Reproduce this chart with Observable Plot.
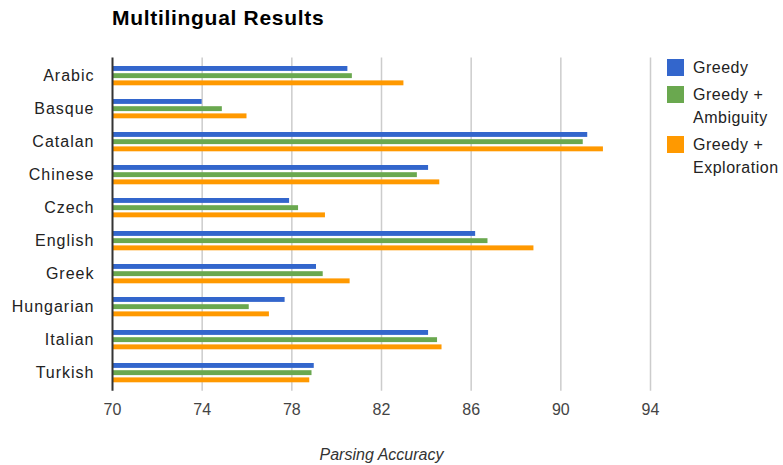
<!DOCTYPE html>
<html>
<head>
<meta charset="utf-8">
<script src="https://cdn.jsdelivr.net/npm/d3@7"></script>
<script src="https://cdn.jsdelivr.net/npm/@observablehq/plot@0.6"></script>
<style>
  html, body { margin: 0; padding: 0; background: #fff; }
  #wrap { position: relative; width: 783px; height: 465px; overflow: hidden; font-family: "Liberation Sans", Arial, sans-serif; }
  #title { position: absolute; left: 112px; top: 6px; font-size: 21px; font-weight: bold; letter-spacing: 0.7px; color: #000; white-space: nowrap; }
  #chart { position: absolute; left: 0; top: 0; }
  #legend { position: absolute; left: 667px; top: 0; font-size: 16px; color: #222; letter-spacing: 0.5px; }
  .sw { position: absolute; width: 17px; height: 17px; left: 0; }
  .lt { position: absolute; left: 26px; white-space: nowrap; line-height: 23px; }
  svg [aria-label^="y-axis"] text { letter-spacing: 1px; }
</style>
</head>
<body>
<div id="wrap">
  <div id="chart"></div>
  <div id="title">Multilingual Results</div>
  <div id="legend"></div>
</div>
<script>
const languages = ["Arabic", "Basque", "Catalan", "Chinese", "Czech", "English", "Greek", "Hungarian", "Italian", "Turkish"];
const greedy      = [80.5, 74.0, 91.2, 84.1, 77.9, 86.2, 79.1, 77.7, 84.1, 79.0];
const ambiguity   = [80.7, 74.9, 91.0, 83.6, 78.3, 86.75, 79.4, 76.1, 84.5, 78.9];
const exploration = [83.0, 76.0, 91.9, 84.6, 79.5, 88.8, 80.6, 77.0, 84.7, 78.8];
const seriesNames = ["Greedy", "Greedy + Ambiguity", "Greedy + Exploration"];
const legendLines = [["Greedy"], ["Greedy +", "Ambiguity"], ["Greedy +", "Exploration"]];
const colors = ["#3366cc", "#6aa84f", "#ff9900"];
const xTicks = [70, 74, 78, 82, 86, 90, 94];
const xLabel = "Parsing Accuracy";

const seriesValues = [greedy, ambiguity, exploration];
const base = xTicks[0];
const rows = seriesValues.map((vals, s) => languages.map((lang, i) => ({lang, series: seriesNames[s], value: vals[i]})));

// placement of the three bars inside each language band
const insets = [[7, 21.1], [14.2, 13.9], [21.4, 6.7]];

const marks = [
  Plot.ruleX(xTicks.slice(1), {stroke: "#cccccc", strokeWidth: 1.5}),
  ...rows.map((data, s) => Plot.barX(data, {
    y: "lang", x1: () => base, x2: "value",
    fill: colors[s], insetTop: insets[s][0], insetBottom: insets[s][1]
  })),
  Plot.ruleX([base], {stroke: "#333", strokeWidth: 2}),
  Plot.text([xLabel], {frameAnchor: "bottom", dy: 64, text: d => d, fontStyle: "italic", fontSize: 16, fill: "#333", lineAnchor: "middle"})
];

const chart = Plot.plot({
  width: 783,
  height: 465,
  marginLeft: 112,
  marginRight: 133,
  marginTop: 57.5,
  marginBottom: 74.2,
  style: {fontFamily: "'Liberation Sans', Arial, sans-serif", fontSize: "16px", color: "#222", background: "#fff"},
  x: {domain: [xTicks[0], xTicks[xTicks.length - 1]], ticks: xTicks, tickSize: 0, tickPadding: 12, label: null, tickFormat: d => String(d)},
  y: {domain: languages, padding: 0, tickSize: 0, tickPadding: 18, label: null},
  marks
});
document.getElementById("chart").appendChild(chart);

// x tick label color
chart.querySelectorAll('[aria-label^="x-axis"] text').forEach(t => t.setAttribute("fill", "#444"));

// legend
const legend = document.getElementById("legend");
const swatchTops = [59, 86, 136];
legendLines.forEach((lines, s) => {
  const sw = document.createElement("div");
  sw.className = "sw";
  sw.style.top = swatchTops[s] + "px";
  sw.style.background = colors[s];
  legend.appendChild(sw);
  lines.forEach((ln, k) => {
    const t = document.createElement("div");
    t.className = "lt";
    t.textContent = ln;
    t.style.top = (swatchTops[s] - 3 + k * 23) + "px";
    legend.appendChild(t);
  });
});
</script>
</body>
</html>
